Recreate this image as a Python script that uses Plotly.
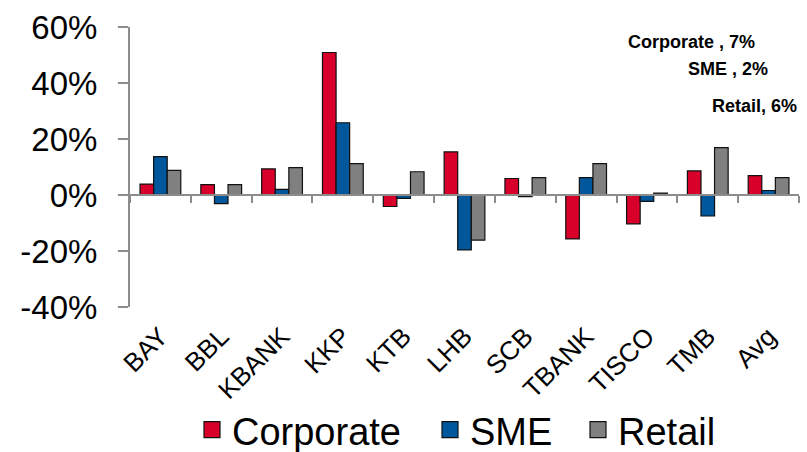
import plotly.graph_objects as go

banks = ["BAY", "BBL", "KBANK", "KKP", "KTB", "LHB", "SCB", "TBANK", "TISCO", "TMB", "Avg"]
corporate = [3.9, 3.7, 9.3, 50.9, -4.1, 15.4, 5.9, -15.7, -10.3, 8.6, 6.9]
sme = [13.7, -3.1, 2.0, 25.8, -1.2, -19.6, -0.6, 6.2, -2.3, -7.5, 1.6]
retail = [8.8, 3.7, 9.8, 11.2, 8.3, -16.1, 6.2, 11.2, 0.7, 16.9, 6.2]

y_tickvals = [-40, -20, 0, 20, 40, 60]
y_ticktext = ["-40%", "-20%", "0%", "20%", "40%", "60%"]

series_names = ["Corporate", "SME", "Retail"]
series_values = [corporate, sme, retail]
colors = ["#D8002A", "#00579B", "#808080"]

FONT = "Liberation Sans, Arial, sans-serif"
AXIS = "#8c8c8c"
legend_ids = ["legend", "legend2", "legend3"]
legend_x = [192, 430, 578]

fig = go.Figure()
for name, vals, col, lid in zip(series_names, series_values, colors, legend_ids):
    fig.add_trace(go.Bar(
        x=banks, y=vals, name=name, marker_color=col,
        marker_line_color="#111111", marker_line_width=1.2,
        showlegend=False,
    ))
    fig.add_trace(go.Scatter(
        x=[None], y=[None], mode="markers", name=name, legend=lid,
        marker=dict(symbol="square", size=18, color=col, line=dict(color="#111111", width=1.2)),
        showlegend=True,
    ))

fig.add_trace(go.Scatter(x=banks, y=[0] * len(banks), xaxis="x2", mode="none",
                         showlegend=False, hoverinfo="skip"))

avg_idx = banks.index("Avg")
ann_text = [
    f"Corporate , {corporate[avg_idx]:.0f}%",
    f"SME , {sme[avg_idx]:.0f}%",
    f"Retail, {retail[avg_idx]:.0f}%",
]
ann_pos = [(0.937, 0.946), (0.957, 0.85), (1.0, 0.718)]
for t, (ax, ay) in zip(ann_text, ann_pos):
    fig.add_annotation(text=f"<b>{t}</b>", x=ax, y=ay, xref="paper", yref="paper",
                       xanchor="right", yanchor="middle", showarrow=False,
                       font=dict(size=18, color="#000000", family=FONT))

legends = {}
for lid, lx in zip(legend_ids, legend_x):
    legends[lid] = dict(orientation="h", xref="container", yref="container",
                        x=lx / 807, xanchor="left", y=1 - 430 / 452, yanchor="middle",
                        font=dict(size=38, family=FONT), itemwidth=30,
                        bgcolor="rgba(0,0,0,0)", borderwidth=0)

fig.update_layout(
    width=807, height=452,
    margin=dict(l=130, r=8, t=27, b=145, autoexpand=False),
    paper_bgcolor="white", plot_bgcolor="white",
    barmode="group", bargap=0.33, bargroupgap=0,
    font=dict(family=FONT, color="#000000"),
    xaxis=dict(type="category", showline=False, ticks="", tickangle=-45,
               tickfont=dict(size=26, family=FONT), showgrid=False, zeroline=False,
               automargin=False, ticklabelstandoff=8, range=[-0.5, len(banks) - 0.5]),
    xaxis2=dict(type="category", overlaying="x", anchor="free", position=0.4,
                showline=True, linecolor=AXIS, linewidth=2, ticks="outside",
                tickson="boundaries", ticklen=7, tickwidth=2, tickcolor=AXIS,
                showticklabels=False, showgrid=False, zeroline=False,
                range=[-0.5, len(banks) - 0.5], matches="x"),
    yaxis=dict(range=[-40, 60], tickvals=y_tickvals, ticktext=y_ticktext, showgrid=False,
               zeroline=False, showline=True, linecolor=AXIS, linewidth=2,
               ticks="outside", ticklen=10, tickwidth=2, tickcolor=AXIS, automargin=False,
               tickfont=dict(size=33, family=FONT), ticklabelstandoff=14),
    **legends,
)

fig.write_html("out.html")
